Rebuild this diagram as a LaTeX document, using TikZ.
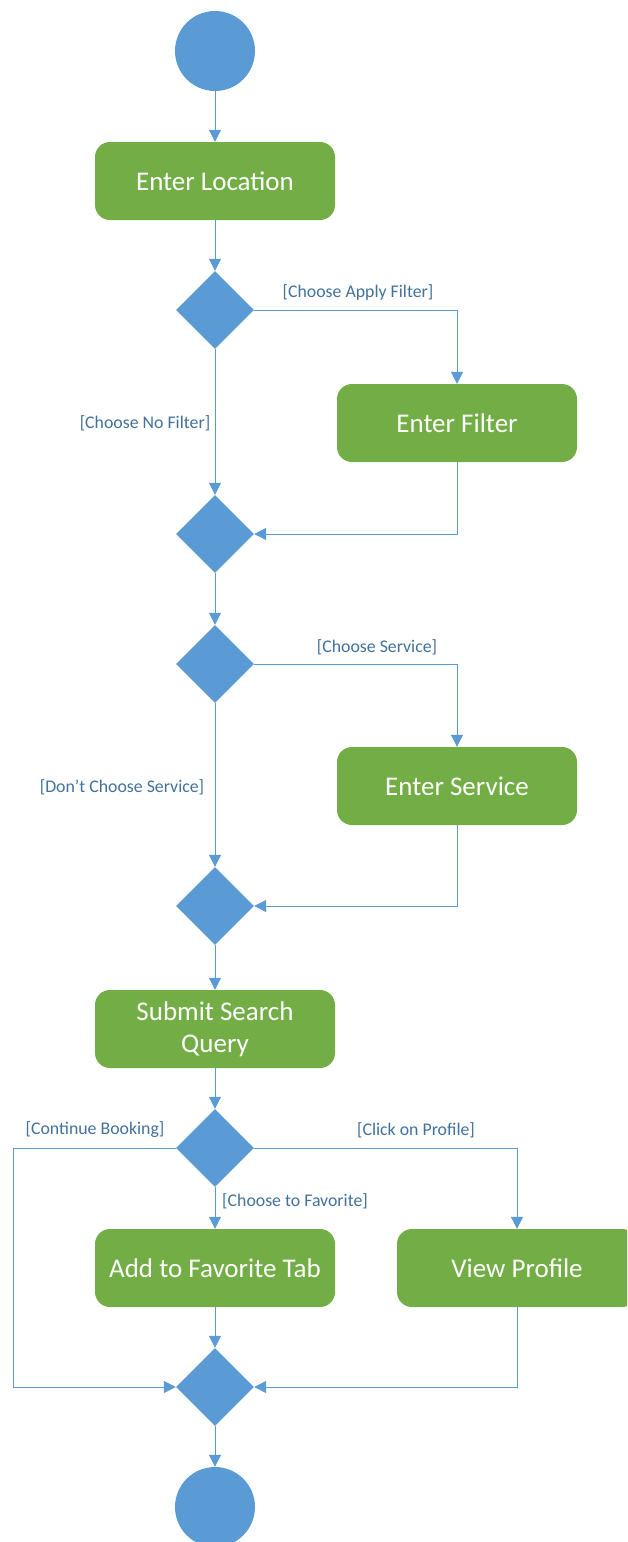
\documentclass[tikz,border=0pt]{standalone}
\usepackage{fontspec}
\setmainfont{Carlito}
\usepackage{tikz}
\usetikzlibrary{arrows.meta,shapes.geometric}

\definecolor{umlblue}{HTML}{5B9BD5}
\definecolor{umlgreen}{HTML}{72AE45}
\definecolor{guardtext}{HTML}{41719C}

\begin{document}
\begin{tikzpicture}[x=1pt,y=-1pt]
	\useasboundingbox (0,0) rectangle (627,1542);
	\clip (0,0) rectangle (627,1542);

	% start / end points
	\begin{scope}[every node/.style={circle,fill=umlblue,minimum size=80pt,inner sep=0pt}]
	    \node (start) at (215,51) {};
	    \node (stop) at (215,1507) {};
	\end{scope}

	% activities
	\begin{scope}[every node/.style={rectangle,rounded corners=15pt,fill=umlgreen,
	              minimum width=240pt,minimum height=78pt,inner sep=0pt,
	              text=white,align=center,font=\fontsize{27}{32}\selectfont}]
	    \node (loc) at (215,181) {Enter Location};
	    \node (filter) at (457,423) {Enter Filter};
	    \node (service) at (457,786) {Enter Service};
	    \node (query) at (215,1029) {Submit Search\\Query};
	    \node (fav) at (215,1268) {Add to Favorite Tab};
	    \node (profile) at (517,1268) {View Profile};
	\end{scope}

	% decisions and merges
	\begin{scope}[every node/.style={diamond,fill=umlblue,minimum size=78pt,inner sep=0pt,aspect=1}]
	    \node (d1) at (215,310) {};
	    \node (d2) at (215,534) {};
	    \node (d3) at (215,664) {};
	    \node (d4) at (215,906) {};
	    \node (d5) at (215,1148) {};
	    \node (d6) at (215,1387) {};
	\end{scope}

	% guards
	\begin{scope}[every node/.style={text=guardtext,inner sep=0pt,font=\fontsize{17.8}{20}\selectfont}]
	    \node (g1) at (358,292) {[Choose Apply Filter]};
	    \node (g2) at (145,423) {[Choose No Filter]};
	    \node (g3) at (377,647) {[Choose Service]};
	    \node (g4) at (122,787) {[Don’t Choose Service]};
	    \node (g5) at (95,1130) {[Continue Booking]};
	    \node (g6) at (416,1130) {[Click on Profile]};
	    \node[anchor=west] (g7) at (222,1201) {[Choose to Favorite]};
	\end{scope}

	\coordinate (back) at (13,1148);

	\begin{scope}[>={Triangle[length=12pt,width=12pt]},
	              every edge/.style={draw=umlblue,line width=1pt,->},
	              draw=umlblue,line width=1pt]
	    \path (start) edge (loc);
	    \path (loc) edge (d1);
	    \path (d1) edge (d2);
	    \path (d2) edge (d3);
	    \path (d3) edge (d4);
	    \path (d4) edge (query);
	    \path (query) edge (d5);
	    \path (d5) edge (fav);
	    \path (fav) edge (d6);
	    \path (d6) edge (stop);
	    \draw[->] (d1.east) -| (filter.north);
	    \draw[->] (filter.south) |- (d2.east);
	    \draw[->] (d3.east) -| (service.north);
	    \draw[->] (service.south) |- (d4.east);
	    \draw[->] (d5.east) -| (profile.north);
	    \draw[->] (profile.south) |- (d6.east);
	    \draw[->] (d5.west) -- (back) |- (d6.west);
	\end{scope}
\end{tikzpicture}
\end{document}
